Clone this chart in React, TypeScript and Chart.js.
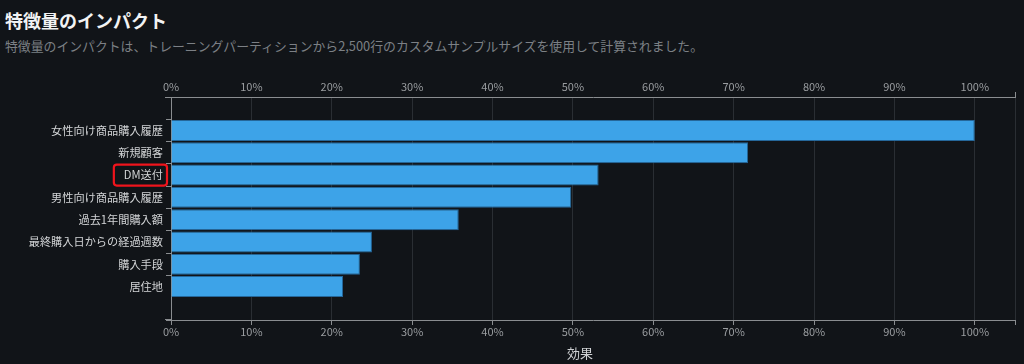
import React, { useEffect, useRef } from "react";
import { Chart, registerables } from "chart.js";

Chart.register(...registerables);

const categories: string[] = [
  "",
  "女性向け商品購入履歴",
  "新規顧客",
  "DM送付",
  "男性向け商品購入履歴",
  "過去1年間購入額",
  "最終購入日からの経過週数",
  "購入手段",
  "居住地",
  "",
];
const impact: (number | null)[] = [null, 100, 71.8, 53.2, 49.8, 35.8, 25.0, 23.5, 21.4, null];
const highlighted = "DM送付";
const xTitle = "効果";
const titleText = "特徴量のインパクト";
const subtitleText =
  "特徴量のインパクトは、トレーニングパーティションから2,500行のカスタムサンプルサイズを使用して計算されました。";

const FONT = "'Noto Sans CJK JP', 'Noto Sans', sans-serif";
const BG = "#111418";

export default function App() {
  const ref = useRef<HTMLCanvasElement | null>(null);

  useEffect(() => {
    document.body.style.margin = "0";
    document.body.style.background = BG;
    const canvas = ref.current;
    if (!canvas) return;

    const gridColor = "#2a2e33";
    const axisColor = "#8a8d90";

    const decorPlugin = {
      id: "decor",
      afterDraw(chart: any) {
        const y = chart.scales.y;
        const area = chart.chartArea;
        const c = chart.ctx;
        c.save();
        c.strokeStyle = axisColor;
        c.lineWidth = 1;
        c.beginPath();
        c.moveTo(area.left - 6, Math.round(area.top) + 0.5);
        c.lineTo(area.left, Math.round(area.top) + 0.5);
        c.moveTo(area.left - 6, Math.round(area.bottom) - 0.5);
        c.lineTo(area.left, Math.round(area.bottom) - 0.5);
        c.stroke();
        const idx = categories.indexOf(highlighted);
        if (idx >= 0) {
          const cy = y.getPixelForValue(idx);
          c.font = `11.2px ${FONT}`;
          const w = c.measureText(highlighted).width;
          const right = area.left - 4;
          const left = right - w - 14;
          c.strokeStyle = "#f0141c";
          c.lineWidth = 2.2;
          c.beginPath();
          (c as any).roundRect(left, cy - 10.5, right - left, 21, 3);
          c.stroke();
        }
        c.restore();
      },
    };

    const pct = (v: any) => (Number(v) % 10 === 0 ? `${v}%` : "");

    const chart = new Chart(canvas, {
      type: "bar",
      data: {
        labels: categories,
        datasets: [
          {
            data: impact,
            backgroundColor: "#3da3e8",
            borderColor: "#25679a",
            borderWidth: 1,
            barPercentage: 0.94,
            categoryPercentage: 1,
            xAxisID: "x",
          },
        ],
      },
      options: {
        indexAxis: "y",
        animation: false,
        responsive: false,
        maintainAspectRatio: false,
        layout: { padding: { left: 0, right: 9, top: 0, bottom: 0 } },
        plugins: {
          legend: { display: false },
          tooltip: { enabled: false },
        },
        scales: {
          x: {
            position: "top",
            min: 0,
            max: 105,
            ticks: {
              stepSize: 10,
              color: "#9a9da0",
              font: { family: FONT, size: 11 },
              padding: -1,
              callback: pct,
            },
            grid: {
              color: gridColor,
              tickColor: (ctx: any) =>
                ctx.tick && ctx.tick.value === 105 ? axisColor : "rgba(0,0,0,0)",
              tickLength: 5,
            },
            border: { color: axisColor },
            afterFit: (s: any) => {
              s.height = 37;
            },
          },
          x2: {
            position: "bottom",
            min: 0,
            max: 105,
            ticks: {
              stepSize: 10,
              color: "#9a9da0",
              font: { family: FONT, size: 11 },
              padding: 0,
              callback: pct,
            },
            grid: {
              drawOnChartArea: false,
              tickColor: axisColor,
              tickLength: 5,
            },
            border: { color: axisColor },
            afterFit: (s: any) => {
              s.height = 44;
            },
          },
          y: {
            grid: {
              display: true,
              drawOnChartArea: false,
              tickLength: 5,
              tickColor: (ctx: any) =>
                ctx.tick && ctx.tick.label === "" ? "rgba(0,0,0,0)" : axisColor,
            },
            border: { color: axisColor },
            ticks: {
              color: "#d2d4d6",
              font: { family: FONT, size: 11.2 },
              padding: 3,
              autoSkip: false,
            },
            afterFit: (s: any) => {
              s.width = 171;
            },
          },
        },
      },
      plugins: [decorPlugin],
    });
    return () => chart.destroy();
  }, []);

  return (
    <div style={{ position: "relative", width: 1024, height: 364, background: BG, overflow: "hidden" }}>
      <div
        style={{
          position: "absolute",
          left: 5,
          top: 6,
          fontFamily: FONT,
          fontWeight: 700,
          fontSize: 18,
          color: "#f2f3f4",
          lineHeight: "28px",
          whiteSpace: "nowrap",
        }}
      >
        {titleText}
      </div>
      <div
        style={{
          position: "absolute",
          left: 5,
          top: 37,
          fontFamily: FONT,
          fontSize: 12.85,
          color: "#7c8085",
          lineHeight: "18px",
          whiteSpace: "nowrap",
        }}
      >
        {subtitleText}
      </div>
      <canvas
        ref={ref}
        width={1024}
        height={304}
        style={{ position: "absolute", left: 0, top: 60, width: 1024, height: 304 }}
      />
      <div
        style={{
          position: "absolute",
          left: 567,
          top: 343,
          fontFamily: FONT,
          fontSize: 13,
          color: "#cfd1d3",
          lineHeight: "20px",
          whiteSpace: "nowrap",
        }}
      >
        {xTitle}
      </div>
    </div>
  );
}
